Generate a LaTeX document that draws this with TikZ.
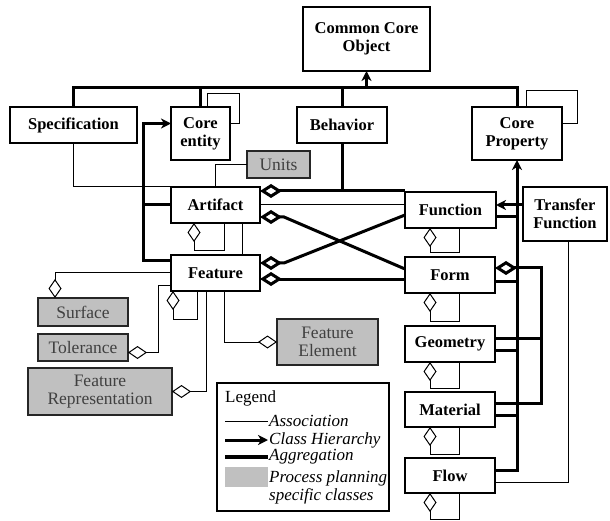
\documentclass[tikz,border=0pt]{standalone}
\usepackage{fontspec}
\setmainfont{Liberation Serif}
\usetikzlibrary{arrows.meta,calc}
\definecolor{pgray}{HTML}{C0C0C0}
\definecolor{ptext}{HTML}{404040}
\tikzset{
  wh/.style 2 args={minimum width=#1pt, minimum height=#2pt},
  cls/.style={draw, line width=1.5pt, fill=white, inner sep=0pt, outer sep=0pt,
    align=center, font=\fontsize{16.5}{18}\selectfont\bfseries},
  ppc/.style={draw=black!85, line width=1.4pt, fill=pgray, inner sep=0pt, outer sep=0pt,
    align=center, text=ptext, font=\fontsize{17.5}{18}\selectfont},
  assoc/.style={line width=1pt},
  hier/.style={line width=3pt},
  aggr/.style={line width=3pt},
  hiertip/.tip={Stealth[length=10pt,width=10pt,inset=3pt]},
  dthin/.tip={Diamond[fill=white,length=19pt,width=13pt]},
  dthick/.tip={Diamond[fill=white,length=22pt,width=14pt]},
  lgt/.style={inner sep=1pt, font=\fontsize{17}{18}\selectfont\itshape, align=left},
}
\begin{document}
\begin{tikzpicture}[x=1pt, y=-1pt]
\useasboundingbox (0,0) rectangle (610,521);

% classes
\node[cls, wh={127}{64}] (ccobj)    at (366.5,39)   {Common Core\\Object};
\node[cls, wh={127}{36}] (spec)     at (73.5,125)   {Specification};
\node[cls, wh={59}{53}]  (coreent)  at (200.5,133.5){Core\\entity};
\node[cls, wh={90}{36}]  (behav)    at (342,125)    {Behavior};
\node[cls, wh={90}{53}]  (coreprop) at (517,133.5)  {Core\\Property};
\node[cls, wh={89}{36}]  (artifact) at (215.5,205)  {Artifact};
\node[cls, wh={89}{36}]  (feature)  at (215.5,273)  {Feature};
\node[cls, wh={91}{36}]  (function) at (450.5,210)  {Function};
\node[cls, wh={84}{54}]  (transfer) at (565,214)    {Transfer\\Function};
\node[cls, wh={90}{36}]  (form)     at (450,275)    {Form};
\node[cls, wh={90}{36}]  (geometry) at (450,344)    {Geometry};
\node[cls, wh={90}{35}]  (material) at (450,409.5)  {Material};
\node[cls, wh={90}{35}]  (flow)     at (450,475.5)  {Flow};

% process planning specific classes
\node[ppc, wh={63}{27}]  (units)     at (278.5,164.5) {Units};
\node[ppc, wh={90}{28}]  (surface)   at (83,312)      {Surface};
\node[ppc, wh={90}{27}]  (tolerance) at (83,347.5)    {Tolerance};
\node[ppc, wh={144}{47}] (featrep)   at (100,391.5)   {Feature\\Representation};
\node[ppc, wh={101}{46}] (featelem)  at (327.5,342)   {Feature\\Element};

% class hierarchy to Common Core Object
\coordinate (bus) at (0,88);
\draw[hier] (spec.north) |- (coreprop.north |- bus) -- (coreprop.north);
\draw[hier] (coreent.north) -- (coreent.north |- bus);
\draw[hier] (behav.north) -- (behav.north |- bus);
\draw[hier,-hiertip] (ccobj.south |- bus) -- (ccobj.south);

% self associations
\draw[assoc] ($(coreent.north)+(6.5,0)$) |- ($(coreent.north east)+(9,-13)$)
  |- ($(coreent.east)+(0,-9.5)$);
\draw[assoc] ($(coreprop.north)+(9,0)$) |- ($(coreprop.north east)+(15,-16)$)
  |- ($(coreprop.east)+(0,-9.5)$);

% associations
\draw[assoc] (spec.south) |- (artifact.north west);
\draw[assoc] (units.west) -| (artifact.north);
\draw[assoc] (artifact.east) -- (artifact.east -| function.west);
\draw[assoc] ($(artifact.south)+(26.5,0)$) -- ($(feature.north)+(26.5,0)$);
\draw[assoc] ($(transfer.south)+(3,0)$) |- ($(flow.east)+(0,6.5)$);

% Artifact and Feature are Core entities
\draw[hier] (artifact.west) -- ++(-28,0);
\draw[hier,-hiertip] ($(feature.west)+(0,-12)$) -- ++(-28,0)
  |- ($(coreent.west)+(0,-10)$);

% aggregations between Artifact/Feature and Function/Form
\coordinate (ag1) at ($(artifact.north east)+(0,4)$);
\draw[aggr,dthick-] (ag1) -- (ag1 -| function.west);
\draw[hier] (behav.south) -- (behav.south |- ag1);
\draw[aggr,dthick-] ($(artifact.east)+(0,12)$) -- ++(24,0) -- ($(form.west)+(0,-6)$);
\draw[aggr,dthick-] ($(feature.east)+(0,-10)$) -- ++(24,0) -- ($(function.west)+(0,5)$);
\draw[aggr,dthick-] ($(feature.east)+(0,6)$) -- ($(form.west)+(0,4)$);

% self aggregations
\draw[assoc,-dthin] ($(artifact.south)+(8.5,0)$) -- ++(0,28) -| ($(artifact.south)+(-21.5,0)$);
\draw[assoc,-dthin] ($(feature.south)+(-18.5,0)$) -- ++(0,28) -| ($(feature.south)+(-42.5,0)$);
\draw[assoc,-dthin] ($(function.south)+(8.5,0)$) -- ++(0,25) -| ($(function.south)+(-20.5,0)$);
\draw[assoc,-dthin] ($(form.south)+(9,0)$) -- ++(0,28) -| ($(form.south)+(-20,0)$);
\draw[assoc,-dthin] ($(geometry.south)+(9,0)$) -- ++(0,26) -| ($(geometry.south)+(-20,0)$);
\draw[assoc,-dthin] ($(material.south)+(9,0)$) -- ++(0,27) -| ($(material.south)+(-20,0)$);
\draw[assoc,-dthin] ($(flow.south)+(9,0)$) -- ++(0,26) -| ($(flow.south)+(-20,0)$);

% Feature aggregates process planning classes
\draw[assoc,dthin-] ($(surface.north)+(-28,0)$) |- (feature.west);
\draw[assoc,dthin-] ($(tolerance.east)+(0,5)$) -| ($(feature.west)+(-13,12)$)
  -- ($(feature.west)+(0,12)$);
\draw[assoc,dthin-] (featrep.east) -| ($(feature.south)+(-9.5,0)$);
\draw[assoc,dthin-] (featelem.west) -| ($(feature.south)+(8.5,0)$);

% Transfer Function is a Function
\draw[hier,-hiertip] ($(transfer.west)+(0,-9)$) -- ($(function.east)+(0,-5)$);

% Function, Form, Geometry, Material, Flow are Core Properties
\draw[hier,-hiertip] ($(flow.east)+(0,-5.5)$) -| (coreprop.south);
\draw[hier] ($(function.east)+(0,7)$) -- ($(function.east -| coreprop.south)+(0,7)$);
\draw[hier] ($(form.east)+(0,6)$) -- ($(form.east -| coreprop.south)+(0,6)$);
\draw[hier] ($(geometry.east)+(0,6)$) -- ($(geometry.east -| coreprop.south)+(0,6)$);
\draw[hier] ($(material.east)+(0,5.5)$) -- ($(material.east -| coreprop.south)+(0,5.5)$);

% Form aggregates Geometry and Material
\draw[aggr,dthick-] ($(form.east)+(0,-7)$) -| ($(material.east)+(46,-6.5)$)
  -- ($(material.east)+(0,-6.5)$);
\draw[aggr] ($(geometry.east)+(0,-6)$) -- ++(46,0);

% legend
\node[draw, line width=1.5pt, wh={172}{128}, inner sep=0pt, anchor=north west] (legend) at (216,382) {};
\node[anchor=west, inner sep=1pt, font=\fontsize{17}{18}\selectfont] (legtitle) at (224,398) {Legend};
\coordinate (la1) at (225,421); \coordinate (la2) at (268,421);
\coordinate (lh1) at (225,440); \coordinate (lh2) at (268,440);
\coordinate (lg1) at (225,457); \coordinate (lg2) at (268,457);
\draw[assoc] (la1) -- (la2);
\draw[hier,-hiertip] (lh1) -- (lh2);
\draw[line width=3.5pt] (lg1) -- (lg2);
\node[fill=pgray, anchor=north west, wh={43}{20}, inner sep=0pt] (lgray) at (225,467) {};
\node[lgt, anchor=west] (lta) at (la2) {Association};
\node[lgt, anchor=west] (lth) at (lh2) {Class Hierarchy};
\node[lgt, anchor=west] (ltg) at (lg2) {Aggregation};
\node[lgt, anchor=west] (ltp) at (268,487) {Process planning\\specific classes};
\end{tikzpicture}
\end{document}
